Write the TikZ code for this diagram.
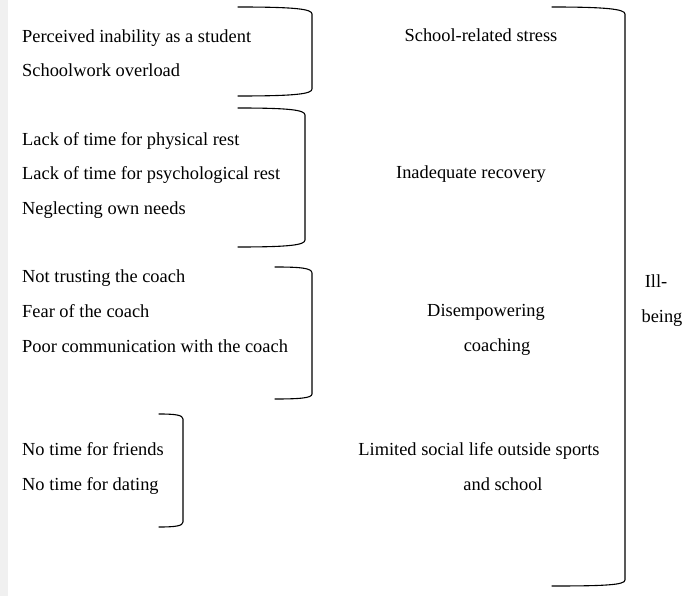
\documentclass[tikz,border=0pt]{standalone}
\usepackage{fontspec}
\setmainfont{Liberation Serif}
\definecolor{stripgray}{RGB}{240,240,240}
\tikzset{
  item/.style={anchor=base west,inner sep=0pt,font=\fontsize{18.4}{22}\selectfont},
  theme/.style={anchor=base,inner sep=0pt,font=\fontsize{18.4}{22}\selectfont},
  bracket/.style={line width=1.1pt,line cap=round}
}
\begin{document}
\begin{tikzpicture}[x=1pt,y=-1pt]
\useasboundingbox (0,0) rectangle (697,596);
\fill[stripgray] (0,0) rectangle (8,596);

% codes
\node[item] (inability) at (22,43) {Perceived inability as a student};
\node[item] (overload) at (22,77) {Schoolwork overload};
\node[item] (physrest) at (22,146) {Lack of time for physical rest};
\node[item] (psyrest) at (22,180) {Lack of time for psychological rest};
\node[item] (needs) at (22,215) {Neglecting own needs};
\node[item] (trust) at (22,283) {Not trusting the coach};
\node[item] (fear) at (22,318) {Fear of the coach};
\node[item] (commun) at (22,353) {Poor communication with the coach};
\node[item] (friends) at (22,455) {No time for friends};
\node[item] (dating) at (22,490) {No time for dating};

% themes
\node[theme] (stress) at (481,42) {School-related stress};
\node[theme] (recovery) at (471,179) {Inadequate recovery};
\node[theme] (disemp) at (486,317) {Disempowering};
\node[theme] (coaching) at (497,352) {coaching};
\node[theme] (social) at (479,455) {Limited social life outside sports};
\node[theme] (school) at (503,490) {and school};
\node[theme] (ill) at (656,288) {Ill-};
\node[theme] (being) at (662,323) {being};

% brackets
\draw[bracket] (238,7) .. controls (295,7) and (312,9) .. (312,14) -- (312,89) .. controls (312,94) and (295,96) .. (238,96);
\draw[bracket] (238,108) .. controls (290,108) and (305,110) .. (305,115) -- (305,240) .. controls (305,245) and (290,247) .. (238,247);
\draw[bracket] (275,267) .. controls (300,267) and (312,268) .. (312,273) -- (312,394) .. controls (312,398) and (300,399) .. (275,399);
\draw[bracket] (159,414) .. controls (175,414) and (183,415) .. (183,419) -- (183,522) .. controls (183,526) and (175,527) .. (159,527);
\draw[bracket] (552,7) .. controls (605,7) and (625,9) .. (625,14) -- (625,580) .. controls (625,585) and (605,586) .. (552,586);
\end{tikzpicture}
\end{document}
